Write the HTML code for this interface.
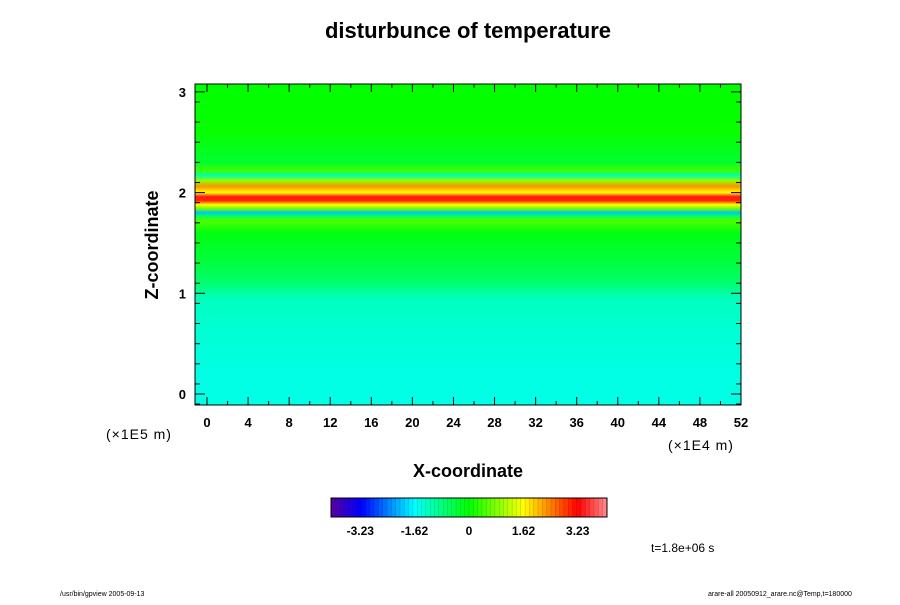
<!DOCTYPE html>
<html><head><meta charset="utf-8"><style>
body{margin:0;background:#fff;width:900px;height:600px;overflow:hidden}
text{font-family:"Liberation Sans",sans-serif}
</style></head><body>
<svg width="900" height="600">
<defs><linearGradient id="prof" x1="0" y1="0" x2="0" y2="1"></linearGradient></defs>
<text x="468" y="38" text-anchor="middle" font-size="22" font-weight="bold">disturbunce of temperature</text>
<g id="plot"></g>
<g id="axes"></g>
<text transform="translate(158,245) rotate(-90)" text-anchor="middle" font-size="18" font-weight="bold">Z-coordinate</text>
<text x="468" y="477" text-anchor="middle" font-size="18" font-weight="bold">X-coordinate</text>
<text x="106" y="439" font-size="14" font-family="DejaVu Sans" letter-spacing="1">(×1E5 m)</text>
<text x="668" y="450" font-size="14" font-family="DejaVu Sans" letter-spacing="1">(×1E4 m)</text>
<g id="cbar"></g>
<text x="651" y="552" font-size="12">t=1.8e+06 s</text>
<text x="60" y="596" font-size="7">/usr/bin/gpview 2005-09-13</text>
<text x="708" y="596" font-size="7">arare-all 20050912_arare.nc@Temp,t=180000</text>
</svg>
<script>
const zLevels=[3.1,2.6,2.3,2.22,2.17,2.12,2.06,2.0,1.96,1.92,1.88,1.84,1.8,1.77,1.72,1.6,1.3,1.1,0.95,0.6,0.2,-0.1];
const tValues=[0,0.05,-0.3,0.4,-1.1,0.9,2.3,1.6,3.4,3.0,1.6,0.7,-2.0,-0.6,0.5,-0.1,-0.4,-0.7,-1.2,-1.35,-1.45,-1.45];
const xTicks=[0,4,8,12,16,20,24,28,32,36,40,44,48,52];
const zTicks=[0,1,2,3];
const cbTicks=[-3.23,-1.62,0,1.62,3.23];
const NS="http://www.w3.org/2000/svg";
const X0=195,X1=741,Y0=84,Y1=405;
const xs=v=>207+(v/52)*(741-207);
const zs=v=>394-v*100.7;
function cmap(v){
 const st=[[-4.1,[90,0,160]],[-3.2,[0,0,255]],[-1.62,[0,255,255]],[0,[0,255,0]],[1.62,[255,255,0]],[3.23,[255,0,0]],[4.1,[255,140,140]]];
 v=Math.max(-4.1,Math.min(4.1,v));
 for(let i=0;i<st.length-1;i++){if(v<=st[i+1][0]){const t=(v-st[i][0])/(st[i+1][0]-st[i][0]);const a=st[i][1],b=st[i+1][1];return `rgb(${a.map((c,k)=>Math.round(c+(b[k]-c)*t)).join(',')})`;}}
 return 'rgb(255,140,140)';}
function el(tag,at,parent){const e=document.createElementNS(NS,tag);for(const k in at)e.setAttribute(k,at[k]);parent.appendChild(e);return e;}
const g=document.getElementById('prof');
zLevels.forEach((z,i)=>{const off=(zs(z)-Y0)/(Y1-Y0);
 el('stop',{offset:Math.max(0,Math.min(1,off)),'stop-color':cmap(tValues[i])},g);});
const plot=document.getElementById('plot');
const r=el('rect',{x:X0,y:Y0,width:X1-X0,height:Y1-Y0,fill:'url(#prof)'},plot);


const ax=document.getElementById('axes');
const fr=el('rect',{x:X0,y:Y0,width:X1-X0,height:Y1-Y0,fill:'none',stroke:'#000','stroke-width':1},ax);


xTicks.forEach(v=>{const x=xs(v);
 el('line',{x1:x,x2:x,y1:Y1,y2:Y1-8,stroke:'#000'},ax);el('line',{x1:x,x2:x,y1:Y0,y2:Y0+8,stroke:'#000'},ax);
 const t=el('text',{x:x,y:427,'text-anchor':'middle','font-size':13,'font-weight':'bold'},ax);t.textContent=v;
 
 });
for(let v=2;v<52;v+=4){const x=xs(v);el('line',{x1:x,x2:x,y1:Y1,y2:Y1-4,stroke:'#000'},ax);el('line',{x1:x,x2:x,y1:Y0,y2:Y0+4,stroke:'#000'},ax);}
for(let v=-0.1;v<=3.1;v+=0.2){const y=zs(Math.round(v*10)/10);if(y<Y0||y>Y1)continue;el('line',{x1:X0,x2:X0+5,y1:y,y2:y,stroke:'#000'},ax);el('line',{x1:X1,x2:X1-5,y1:y,y2:y,stroke:'#000'},ax);}
zTicks.forEach(v=>{const y=zs(v);el('line',{x1:X0,x2:X0+10,y1:y,y2:y,stroke:'#000'},ax);el('line',{x1:X1,x2:X1-10,y1:y,y2:y,stroke:'#000'},ax);
 const t=el('text',{x:186,y:y+5,'text-anchor':'end','font-size':13,'font-weight':'bold'},ax);t.textContent=v;
 
 });
const cb=document.getElementById('cbar');const CB0=331,CB1=607,n=64;
for(let i=0;i<n;i++){const v=-4.1+8.2*(i+0.5)/n;const w=(CB1-CB0)/n;
 const c=el('rect',{x:CB0+i*w,y:498,width:w+0.3,height:19,fill:cmap(v),stroke:'rgba(0,0,0,0.25)','stroke-width':0.4},cb);
 
 }
el('rect',{x:CB0,y:498,width:CB1-CB0,height:19,fill:'none',stroke:'#000'},cb);
const cx=v=>CB0+(v+4.1)/8.2*(CB1-CB0);
cbTicks.forEach(v=>{const t=el('text',{x:cx(v),y:535,'text-anchor':'middle','font-size':12,'font-weight':'bold'},cb);t.textContent=v;
 
 });
</script>
</body></html>
